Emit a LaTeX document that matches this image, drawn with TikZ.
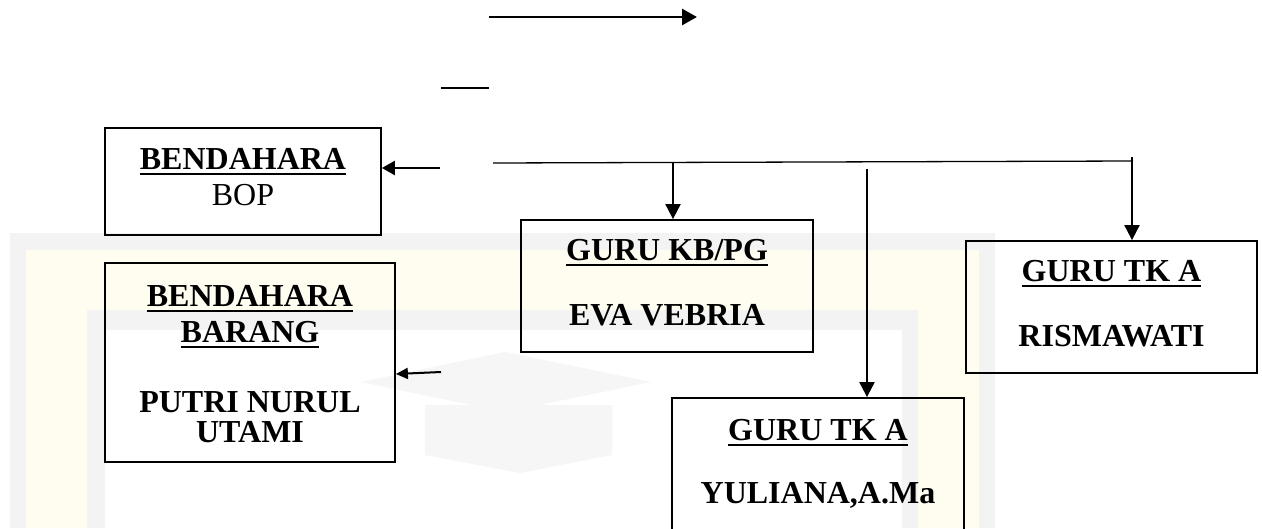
\documentclass[tikz,border=0pt]{standalone}
\usepackage{fontspec}
\setmainfont{Liberation Serif}
\usetikzlibrary{arrows.meta}
\newcommand\ulbox[1]{\setbox0\hbox{#1}\rlap{\rule[-6pt]{\wd0}{2.4pt}}\box0}
\definecolor{wmgray}{RGB}{243,243,243}
\definecolor{wmyel}{RGB}{255,252,240}
\definecolor{wmcap}{RGB}{246,246,246}
\begin{document}
\begin{tikzpicture}[x=1pt,y=-1pt,
  box/.style={draw, line width=1.8pt, inner sep=0pt},
  txt/.style={anchor=base, inner sep=0pt, font=\fontsize{32}{36}\selectfont\bfseries},
  rtxt/.style={anchor=base, inner sep=0pt, font=\fontsize{32}{36}\selectfont},
  conn/.style={line width=2pt, -{Triangle[length=15pt,width=15pt]}},
  thin/.style={line width=1.3pt}]
\useasboundingbox (0,0) rectangle (1262,528);
% faint watermark
\fill[wmgray] (10,233) rectangle (995,528);
\fill[wmyel] (26,250) rectangle (979,528);
\fill[wmgray] (87,310) rectangle (918,528);
\fill[white] (105,330) rectangle (902,528);
\fill[wmcap] (361,382) -- (505,352) -- (651,382) -- (505,412) -- cycle;
\fill[wmcap] (425,405) -- (612,405) -- (612,455) -- (520,473) -- (425,455) -- cycle;
% boxes
\node[box, minimum width=276pt, minimum height=107pt] (bop) at (243,181.5) {};
\node[box, minimum width=290pt, minimum height=199pt] (brg) at (250,362.5) {};
\node[box, minimum width=292pt, minimum height=132pt] (kb) at (667,286) {};
\node[box, minimum width=291pt, minimum height=132pt] (ris) at (1111.5,307) {};
\node[box, minimum width=292pt, minimum height=150pt] (yul) at (818,473) {};
% texts
\node[txt] (t1) at (243,169) {\ulbox{BENDAHARA}};
\node[rtxt] (t2) at (243,205) {BOP};
\node[txt] (t3) at (250,306) {\ulbox{BENDAHARA}};
\node[txt] (t4) at (250,342) {\ulbox{BARANG}};
\node[txt] (t5) at (250,412) {PUTRI NURUL};
\node[txt] (t6) at (250,442) {UTAMI};
\node[txt] (t7) at (667,260) {\ulbox{GURU KB/PG}};
\node[txt] (t8) at (667,325) {EVA VEBRIA};
\node[txt] (t9) at (1111.5,281) {\ulbox{GURU TK A}};
\node[txt] (t10) at (1111.5,346) {RISMAWATI};
\node[txt] (t11) at (818,440) {\ulbox{GURU TK A}};
\node[txt] (t12) at (818,503) {YULIANA,A.Ma};
% coordinates
\coordinate (ta1) at (489,17);
\coordinate (ta2) at (697,17);
\coordinate (sl1) at (441,88);
\coordinate (sl2) at (489,88);
\coordinate (bopin) at (440,168);
\coordinate (brgin) at (441,372);
\coordinate (hl1) at (493,163);
\coordinate (hl2) at (1133,161);
\coordinate (kbtop) at (673,163);
\coordinate (yultop) at (867,169);
\coordinate (ristop) at (1132,157);
% connectors
\draw[line width=2.8pt, -{Triangle[length=15pt,width=16pt]}] (ta1) -- (ta2);
\draw[thin] (sl1) -- (sl2);
\draw[line width=2.6pt, -{Triangle[length=13pt,width=14pt]}] (bopin) -- (bop.east |- bopin);
\draw[line width=2pt, -{Triangle[length=12pt,width=11pt]}] (brgin) -- (brg.east |- 0,374);
\draw[thin] (hl1) -- (hl2);
\draw[conn] (kbtop) -- (kbtop |- kb.north);
\draw[conn] (yultop) -- (yultop |- yul.north);
\draw[conn] (ristop) -- (ristop |- ris.north);
\end{tikzpicture}
\end{document}
